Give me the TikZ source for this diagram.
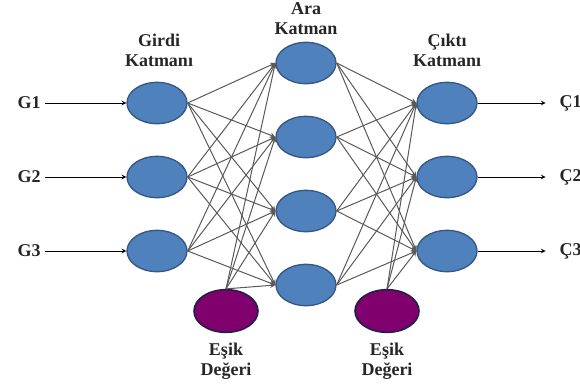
\documentclass[tikz,border=0pt]{standalone}
\usepackage{fontspec}
\setmainfont{Liberation Serif}
\usetikzlibrary{shapes.geometric}
\definecolor{nodeblue}{RGB}{79,129,189}
\definecolor{blueedge}{RGB}{52,88,132}
\definecolor{biaspurple}{RGB}{128,0,110}
\definecolor{biasedge}{RGB}{35,30,70}
\tikzset{
	neuron/.style={ellipse, draw=blueedge, fill=nodeblue, line width=1pt, minimum width=45pt, minimum height=31pt, inner sep=0pt},
	bias/.style={ellipse, draw=biasedge, fill=biaspurple, line width=1.2pt, minimum width=48pt, minimum height=32pt, inner sep=0pt},
	link/.style={-stealth, draw=black!65, line width=0.75pt},
	caption/.style={align=center, font=\bfseries\fontsize{13.5}{15}\selectfont, text=black!85}
}
\begin{document}
\begin{tikzpicture}[x=0.75pt,y=-0.75pt]
		\useasboundingbox (0,0) rectangle (580,383);
		\foreach \i/\y in {1/103,2/177,3/251}{
			\node[neuron] (g\i) at (157,\y) {};
			\node[neuron] (c\i) at (447,\y) {};
			\node[caption] (gl\i) at (29,\y) {G\i};
			\node[caption, anchor=west] (cl\i) at (555,\y) {Ç\i};
			\draw[-stealth, line width=0.6pt] (gl\i) -- (g\i);
			\draw[-stealth, line width=0.6pt, shorten >=7pt] (c\i) -- (cl\i);
		}
		\foreach \j/\y in {1/63,2/137,3/211,4/285}
			\node[neuron] (a\j) at (306,\y) {};
		\node[bias] (e1) at (226,311) {};
		\node[bias] (e2) at (387,311) {};
		\foreach \i in {1,2,3}
			\foreach \j in {1,...,4}{
				\draw[link] (g\i.east) -- (a\j.west);
				\draw[link] (a\j.east) -- (c\i.west);
			}
		\foreach \j in {1,...,4}
			\draw[link] (e1.north) -- (a\j.west);
		\foreach \i in {1,2,3}
			\draw[link] (e2.north) -- (c\i.west);
		\node[caption] (girdi) at (159,50) {Girdi\\Katmanı};
		\node[caption] (ara) at (306,19) {Ara\\Katman};
		\node[caption] (cikti) at (447,50) {Çıktı\\Katmanı};
		\node[caption] (esik1) at (226,361) {Eşik\\Değeri};
		\node[caption] (esik2) at (387,361) {Eşik\\Değeri};
		\end{tikzpicture}
\end{document}
